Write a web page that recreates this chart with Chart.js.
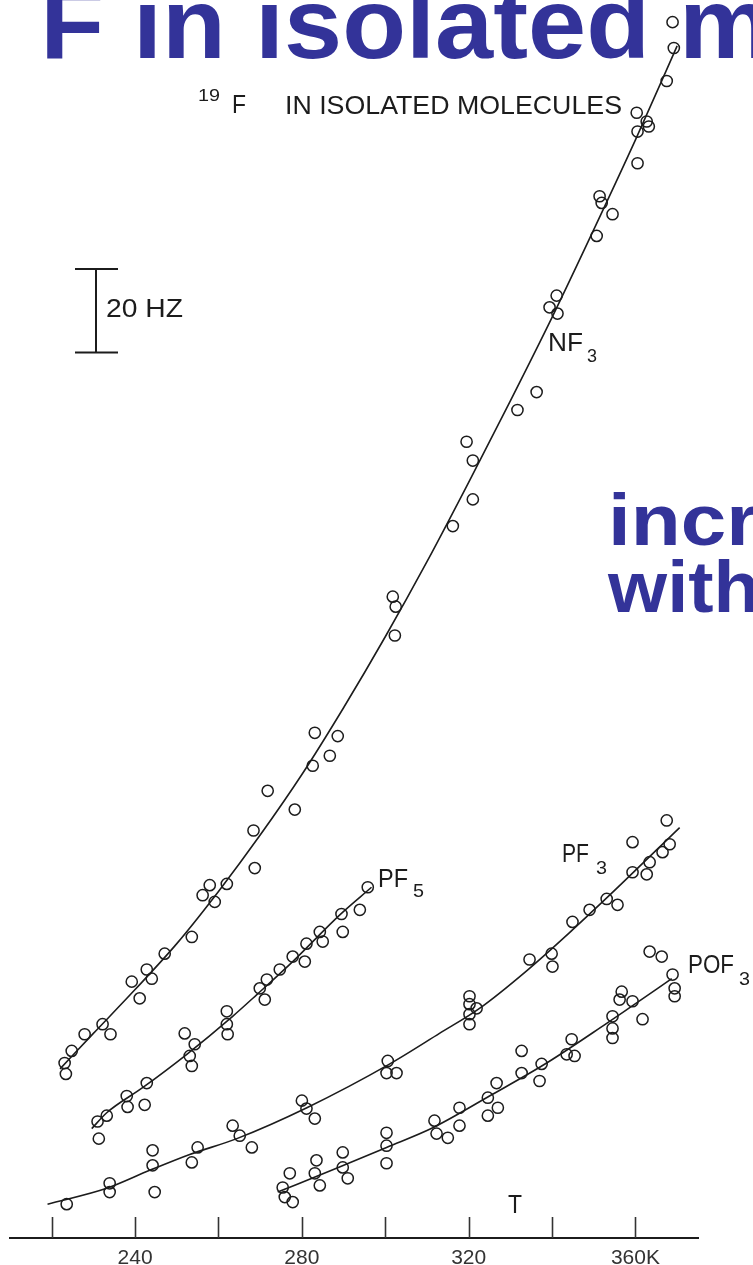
<!DOCTYPE html>
<html>
<head>
<meta charset="utf-8">
<script src="https://cdn.jsdelivr.net/npm/chart.js@4.4.1/dist/chart.umd.min.js"></script>
<style>
  html, body { margin: 0; padding: 0; background: #fff; }
  #wrap { width: 753px; height: 1265px; }
</style>
</head>
<body>
<div id="wrap"><canvas id="chart" width="753" height="1265"></canvas></div>
<script>
// temperature T (K) and line width (Hz)

const nf3T = [223.4, 223.1, 224.8, 227.9, 232.2, 234.1, 239.2, 241.1, 242.8, 244.0, 247.1, 253.6, 256.2, 257.9, 259.1, 262.0, 268.7, 268.4, 271.8, 278.3, 282.6, 286.7, 283.1, 288.6, 301.8, 302.5, 302.3, 316.2, 321.0, 321.0, 319.5, 331.7, 336.3, 339.4, 341.1, 341.3, 350.7, 351.4, 351.9, 354.5, 360.5, 360.3, 362.7, 363.2, 360.5, 367.5, 369.2, 368.9]
const nf3Hz = [39.3, 41.9, 44.8, 48.8, 51.2, 48.8, 61.4, 57.4, 64.3, 62.1, 68.1, 72.1, 82.1, 84.5, 80.5, 84.8, 88.6, 97.6, 107.1, 102.6, 113.1, 115.5, 121.0, 120.2, 153.6, 151.2, 144.3, 170.5, 176.9, 186.2, 190.7, 198.3, 202.6, 222.9, 225.7, 221.4, 240.0, 249.5, 247.9, 245.2, 257.4, 269.5, 267.4, 266.2, 265.0, 277.1, 285.0, 291.2]
const nf3FitT = [222, 230, 240, 250, 260, 270, 280, 290, 300, 310, 320, 330, 340, 350, 360, 370]
const nf3FitHz = [40.5, 49, 59.5, 70.5, 83, 96.5, 111, 127, 144, 162, 181, 200.5, 220.5, 241.5, 263, 285.5]

const pf5T = [231.3, 231.0, 233.2, 238.0, 238.2, 242.3, 242.8, 251.9, 254.3, 253.1, 253.6, 262.0, 262.0, 262.2, 269.9, 271.1, 271.6, 274.7, 277.8, 281.1, 280.7, 284.3, 285.0, 289.5, 289.8, 293.9, 295.8]
const pf5Hz = [23.8, 27.9, 29.3, 34.0, 31.4, 31.9, 37.1, 49.0, 46.4, 43.6, 41.2, 54.3, 51.2, 48.8, 59.8, 57.1, 61.9, 64.3, 67.4, 70.5, 66.2, 73.3, 71.0, 77.6, 73.3, 78.6, 84.0]
const pf5FitT = [229.6, 233.2, 241.8, 252.4, 263.4, 269.2, 277.8, 289.1, 296.7]
const pf5FitHz = [26.2, 30.0, 36.0, 44.0, 53.1, 58.3, 66.2, 77.4, 84.0]

const pf3T = [223.6, 233.9, 233.9, 244.2, 244.2, 244.7, 253.6, 255.0, 263.4, 265.1, 268.0, 280.0, 281.1, 283.1, 300.6, 302.7, 300.3, 320.2, 320.2, 320.2, 320.2, 321.9, 334.6, 339.9, 340.1, 344.9, 349.0, 353.1, 355.7, 359.3, 362.7, 363.4, 366.5, 368.2, 359.3, 367.5]
const pf3Hz = [8.1, 13.1, 11.0, 21.0, 17.4, 11.0, 18.1, 21.7, 26.9, 24.5, 21.7, 32.9, 31.0, 28.6, 42.4, 39.5, 39.5, 57.9, 56.0, 53.6, 51.2, 55.0, 66.7, 68.1, 65.0, 75.7, 78.6, 81.2, 79.8, 87.6, 87.1, 90.0, 92.4, 94.3, 94.8, 100.0]
const pf3FitT = [219.0, 233.2, 243.5, 253.1, 264.4, 281.2, 301.1, 313.0, 322.6, 333.9, 344.9, 353.8, 370.6]
const pf3FitHz = [8.1, 11.9, 16.2, 20.0, 23.8, 31.2, 41.7, 49.0, 55.0, 64.0, 73.8, 82.1, 98.3]

const pof3T = [275.4, 275.9, 277.8, 277.1, 283.1, 283.5, 284.3, 289.8, 289.8, 291.0, 300.3, 300.3, 300.3, 311.8, 312.3, 315.0, 317.8, 317.8, 324.6, 324.6, 326.7, 327.0, 332.7, 332.7, 337.5, 337.0, 344.7, 343.5, 345.4, 354.5, 354.5, 354.5, 356.7, 356.2, 359.3, 361.7, 363.4, 366.3, 368.9, 369.4, 369.4]
const pof3Hz = [12.1, 9.8, 8.6, 15.5, 15.5, 18.6, 12.6, 20.5, 16.9, 14.3, 25.2, 22.1, 17.9, 28.1, 25.0, 24.0, 31.2, 26.9, 33.6, 29.3, 37.1, 31.2, 44.8, 39.5, 41.7, 37.6, 47.6, 44.0, 43.6, 53.1, 50.2, 47.9, 59.0, 57.1, 56.7, 52.4, 68.6, 67.4, 63.1, 59.8, 57.9]
const pof3FitT = [274.2, 288.3, 300.3, 311.4, 325.0, 338.7, 353.1, 358.1, 368.7]
const pof3FitHz = [11.0, 16.7, 21.7, 26.4, 34.0, 41.9, 51.4, 54.8, 62.1]

const tickValues = [220, 240, 260, 280, 300, 320, 340, 360]
const tickLabels = ["", "240", "", "280", "", "320", "", "360K"]

// 20 Hz scale bar
const barFrom = 212.1
const barSpan = 20

const ink = "#1c1c1c"
const blue = "#333399"
const labelFont = '"Liberation Sans", Arial, sans-serif'

function pts(xs, ys) {
  return xs.map((x, i) => ({ x: x, y: ys[i] }))
}

function pointSet(label, xs, ys) {
  return {
    label: label,
    data: pts(xs, ys),
    showLine: false,
    pointStyle: "circle",
    pointRadius: 5.6,
    pointBorderWidth: 1.5,
    pointBorderColor: ink,
    pointBackgroundColor: "rgba(0,0,0,0)",
  }
}

function fitSet(label, xs, ys) {
  return {
    type: "line",
    label: label,
    data: pts(xs, ys),
    showLine: true,
    borderColor: ink,
    borderWidth: 1.6,
    pointRadius: 0,
    cubicInterpolationMode: "monotone",
    fill: false,
  }
}

// draw text squeezed / stretched to a given width
function wideText(ctx, str, x, y, font, width, color) {
  ctx.save()
  ctx.font = font
  ctx.fillStyle = color || ink
  ctx.textBaseline = "alphabetic"
  const w = ctx.measureText(str).width
  ctx.translate(x, y)
  ctx.scale(width / w, 1)
  ctx.fillText(str, 0, 0)
  ctx.restore()
}

const slideText = {
  id: "slideText",
  beforeDatasetsDraw(chart) {
    const ctx = chart.ctx
    // blue slide text behind the figure
    const title = "F in isolated m"
    const titleFont = "bold 100px " + labelFont
    ctx.save()
    ctx.font = titleFont
    const pre = ctx.measureText("F in ").width
    const iso = ctx.measureText("isolated").width
    const full = ctx.measureText(title).width
    ctx.restore()
    const sx = 395 / iso
    wideText(ctx, title, 255 - pre * sx, 58, titleFont, full * sx, blue)
    wideText(ctx, "incr", 608, 545, "bold 72px " + labelFont, 150, blue)
    wideText(ctx, "with", 608, 612, "bold 72px " + labelFont, 152, blue)
  },
  afterDraw(chart) {
    const ctx = chart.ctx
    const xs = chart.scales.x
    const ys = chart.scales.y
    const bottom = chart.chartArea.bottom

    // tick marks stand up from the axis
    ctx.save()
    ctx.strokeStyle = "#333"
    ctx.lineWidth = 1.6
    tickValues.forEach((v) => {
      const px = Math.round(xs.getPixelForValue(v)) + 0.5
      ctx.beginPath()
      ctx.moveTo(px, bottom - 21)
      ctx.lineTo(px, bottom)
      ctx.stroke()
    })

    // scale bar
    const top = ys.getPixelForValue(barFrom + barSpan)
    const low = ys.getPixelForValue(barFrom)
    ctx.strokeStyle = ink
    ctx.lineWidth = 2
    ctx.beginPath()
    ctx.moveTo(96, top)
    ctx.lineTo(96, low)
    ctx.moveTo(75, top)
    ctx.lineTo(118, top)
    ctx.moveTo(75, low)
    ctx.lineTo(118, low)
    ctx.stroke()
    ctx.restore()

    // figure labels
    const f = "25px " + labelFont
    const sub = "18px " + labelFont
    wideText(ctx, "20 HZ", 106, 317, f, 77)
    wideText(ctx, "19", 198, 101, "16px " + labelFont, 22)
    wideText(ctx, "F", 232, 113, f, 14)
    wideText(ctx, "IN ISOLATED MOLECULES", 285, 114, f, 337)

    wideText(ctx, "NF", 548, 351, f, 35)
    wideText(ctx, "3", 587, 362, sub, 10)
    wideText(ctx, "PF", 378, 887, f, 30)
    wideText(ctx, "5", 413, 897, sub, 11)
    wideText(ctx, "PF", 562, 862, f, 27)
    wideText(ctx, "3", 596, 874, sub, 11)
    wideText(ctx, "POF", 688, 973, f, 46)
    wideText(ctx, "3", 739, 985, sub, 11)
    wideText(ctx, "T", 508, 1213, f, 14)
  },
}

new Chart(document.getElementById("chart"), {
  type: "scatter",
  data: {
    datasets: [
      pointSet("NF3", nf3T, nf3Hz),
      fitSet("NF3 fit", nf3FitT, nf3FitHz),
      pointSet("PF5", pf5T, pf5Hz),
      fitSet("PF5 fit", pf5FitT, pf5FitHz),
      pointSet("PF3", pf3T, pf3Hz),
      fitSet("PF3 fit", pf3FitT, pf3FitHz),
      pointSet("POF3", pof3T, pof3Hz),
      fitSet("POF3 fit", pof3FitT, pof3FitHz),
    ],
  },
  options: {
    responsive: false,
    animation: false,
    devicePixelRatio: 1,
    layout: {
      padding: { left: 10, right: 55, top: 0, bottom: 0 },
    },
    plugins: {
      legend: { display: false },
      tooltip: { enabled: false },
    },
    scales: {
      x: {
        type: "linear",
        min: 210,
        max: 375,
        afterBuildTicks: (s) => {
          s.ticks = tickValues.map((v) => ({ value: v }))
        },
        afterFit: (s) => {
          s.height = 27
        },
        grid: { display: false },
        border: { display: true, color: ink, width: 2 },
        ticks: {
          autoSkip: false,
          maxRotation: 0,
          padding: 0,
          color: "#333",
          font: { family: labelFont, size: 21 },
          callback: (v) => tickLabels[tickValues.indexOf(v)] || "",
        },
      },
      y: {
        display: false,
        min: 0,
        max: 294.8,
      },
    },
  },
  plugins: [slideText],
})
</script>
</body>
</html>
